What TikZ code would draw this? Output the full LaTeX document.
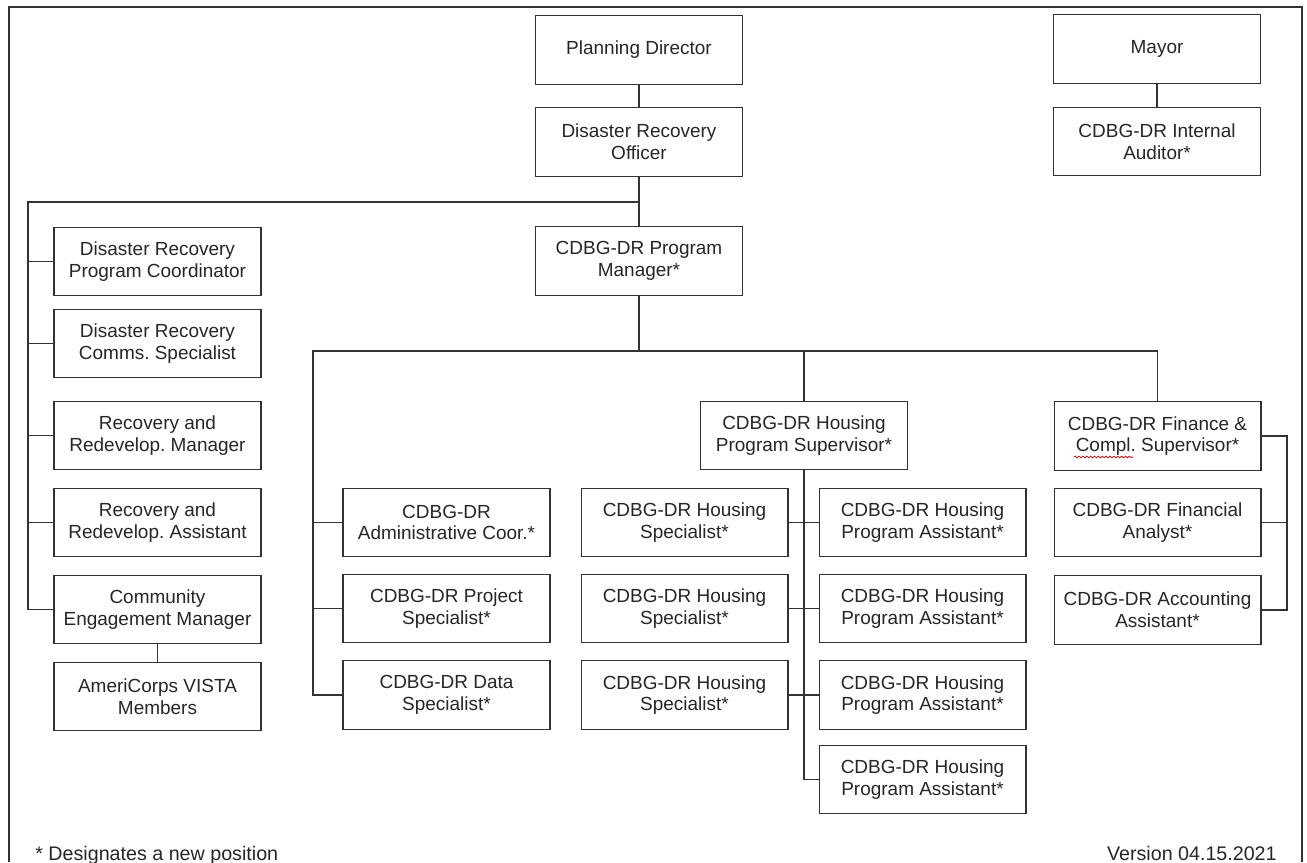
\documentclass[tikz,border=0pt]{standalone}
\usepackage{fontspec}
\setmainfont{Liberation Sans}
\frenchspacing
\usetikzlibrary{decorations.pathmorphing}

\begin{document}
\begin{tikzpicture}[x=0.02cm,y=-0.02cm]
        \tikzset{role/.style={draw=black!80,line width=0.6pt,minimum width=4.14cm,minimum height=1.37cm,
                inner sep=0pt,align=center,text=black!85,font=\fontsize{10.8}{12.4}\selectfont},
            link/.style={draw=black!80,line width=0.6pt},
            note/.style={text=black!85,font=\fontsize{11.2}{13}\selectfont,inner sep=0pt}}
        \useasboundingbox (0,0) rectangle (1307,862);
        \draw[link] (9,862) -- (9,7) -- (1302,7) -- (1302,862);
        % top of the chart
        \node[role] (pd) at (639,50) {Planning Director};
        \node[role] (dro) at (639,142) {Disaster Recovery\\Officer};
        \node[role] (pm) at (639,261) {CDBG-DR Program\\Manager*};
        \node[role] (mayor) at (1157,49) {Mayor};
        \node[role] (aud) at (1157,141.5) {CDBG-DR Internal\\Auditor*};
        % left column
        \node[role] (drpc) at (157.5,261.5) {Disaster Recovery\\Program Coordinator};
        \node[role] (drcs) at (157.5,343.5) {Disaster Recovery\\Comms. Specialist};
        \node[role] (rrm) at (157.5,435.5) {Recovery and\\Redevelop. Manager};
        \node[role] (rra) at (157.5,522.5) {Recovery and\\Redevelop. Assistant};
        \node[role] (cem) at (157.5,609.5) {Community\\Engagement Manager};
        \node[role] (amc) at (157.5,696.5) {AmeriCorps VISTA\\Members};
        % program staff
        \node[role] (adm) at (446.5,522.5) {CDBG-DR\\Administrative Coor.*};
        \node[role] (proj) at (446.5,608.5) {CDBG-DR Project\\Specialist*};
        \node[role] (data) at (446.5,695) {CDBG-DR Data\\Specialist*};
        \node[role] (hsup) at (804,435.5) {CDBG-DR Housing\\Program Supervisor*};
        \foreach \i/\y in {1/522.5,2/608.5,3/695}
            \node[role] (hs\i) at (684.5,\y) {CDBG-DR Housing\\Specialist*};
        \foreach \i/\y in {1/522.5,2/608.5,3/695,4/779.5}
            \node[role] (ha\i) at (922.5,\y) {CDBG-DR Housing\\Program Assistant*};
        \node[role] (fin) at (1157.5,436) {CDBG-DR Finance \&\\Compl. Supervisor*};
        \node[role] (ana) at (1157.5,522.5) {CDBG-DR Financial\\Analyst*};
        \node[role] (acc) at (1157.5,610) {CDBG-DR Accounting\\Assistant*};
        \draw[red!80!black,line width=0.4pt,decorate,decoration={snake,amplitude=0.5pt,segment length=2.2pt}]
            (1074,457) -- (1133,457);
        % connectors
        \coordinate (lb) at (28,202);
        \coordinate (mb) at (313,351);
        \coordinate (rb) at (1287,436);
        \draw[link] (pd) -- (dro);
        \draw[link] (mayor) -- (aud);
        \draw[link] (dro) -- (pm);
        \draw[link] (dro.south |- lb) -- (lb) |- (cem.west);
        \foreach \n in {drpc,drcs,rrm,rra}
            \draw[link] (lb |- \n.west) -- (\n.west);
        \draw[link] (cem) -- (amc);
        \draw[link] (pm) -- (pm |- mb);
        \draw[link] (data.west) -| (mb) -- (fin.north |- mb) -- (fin.north);
        \foreach \n in {adm,proj}
            \draw[link] (mb |- \n.west) -- (\n.west);
        \draw[link] (hsup.north |- mb) -- (hsup.north);
        \draw[link] (hsup.south) -- (hsup.south |- ha4.west) -- (ha4.west);
        \foreach \i in {1,2,3}
            \draw[link] (hs\i.east) -- (ha\i.west);
        \draw[link] (fin.east) -- (rb) |- (acc.east);
        \draw[link] (ana.east) -- (ana.east -| rb);
        % footer
        \node[note,anchor=base west] (fn) at (35,860) {* Designates a new position};
        \node[note,anchor=base east] (ver) at (1277,860) {Version 04.15.2021};
    \end{tikzpicture}
\end{document}
